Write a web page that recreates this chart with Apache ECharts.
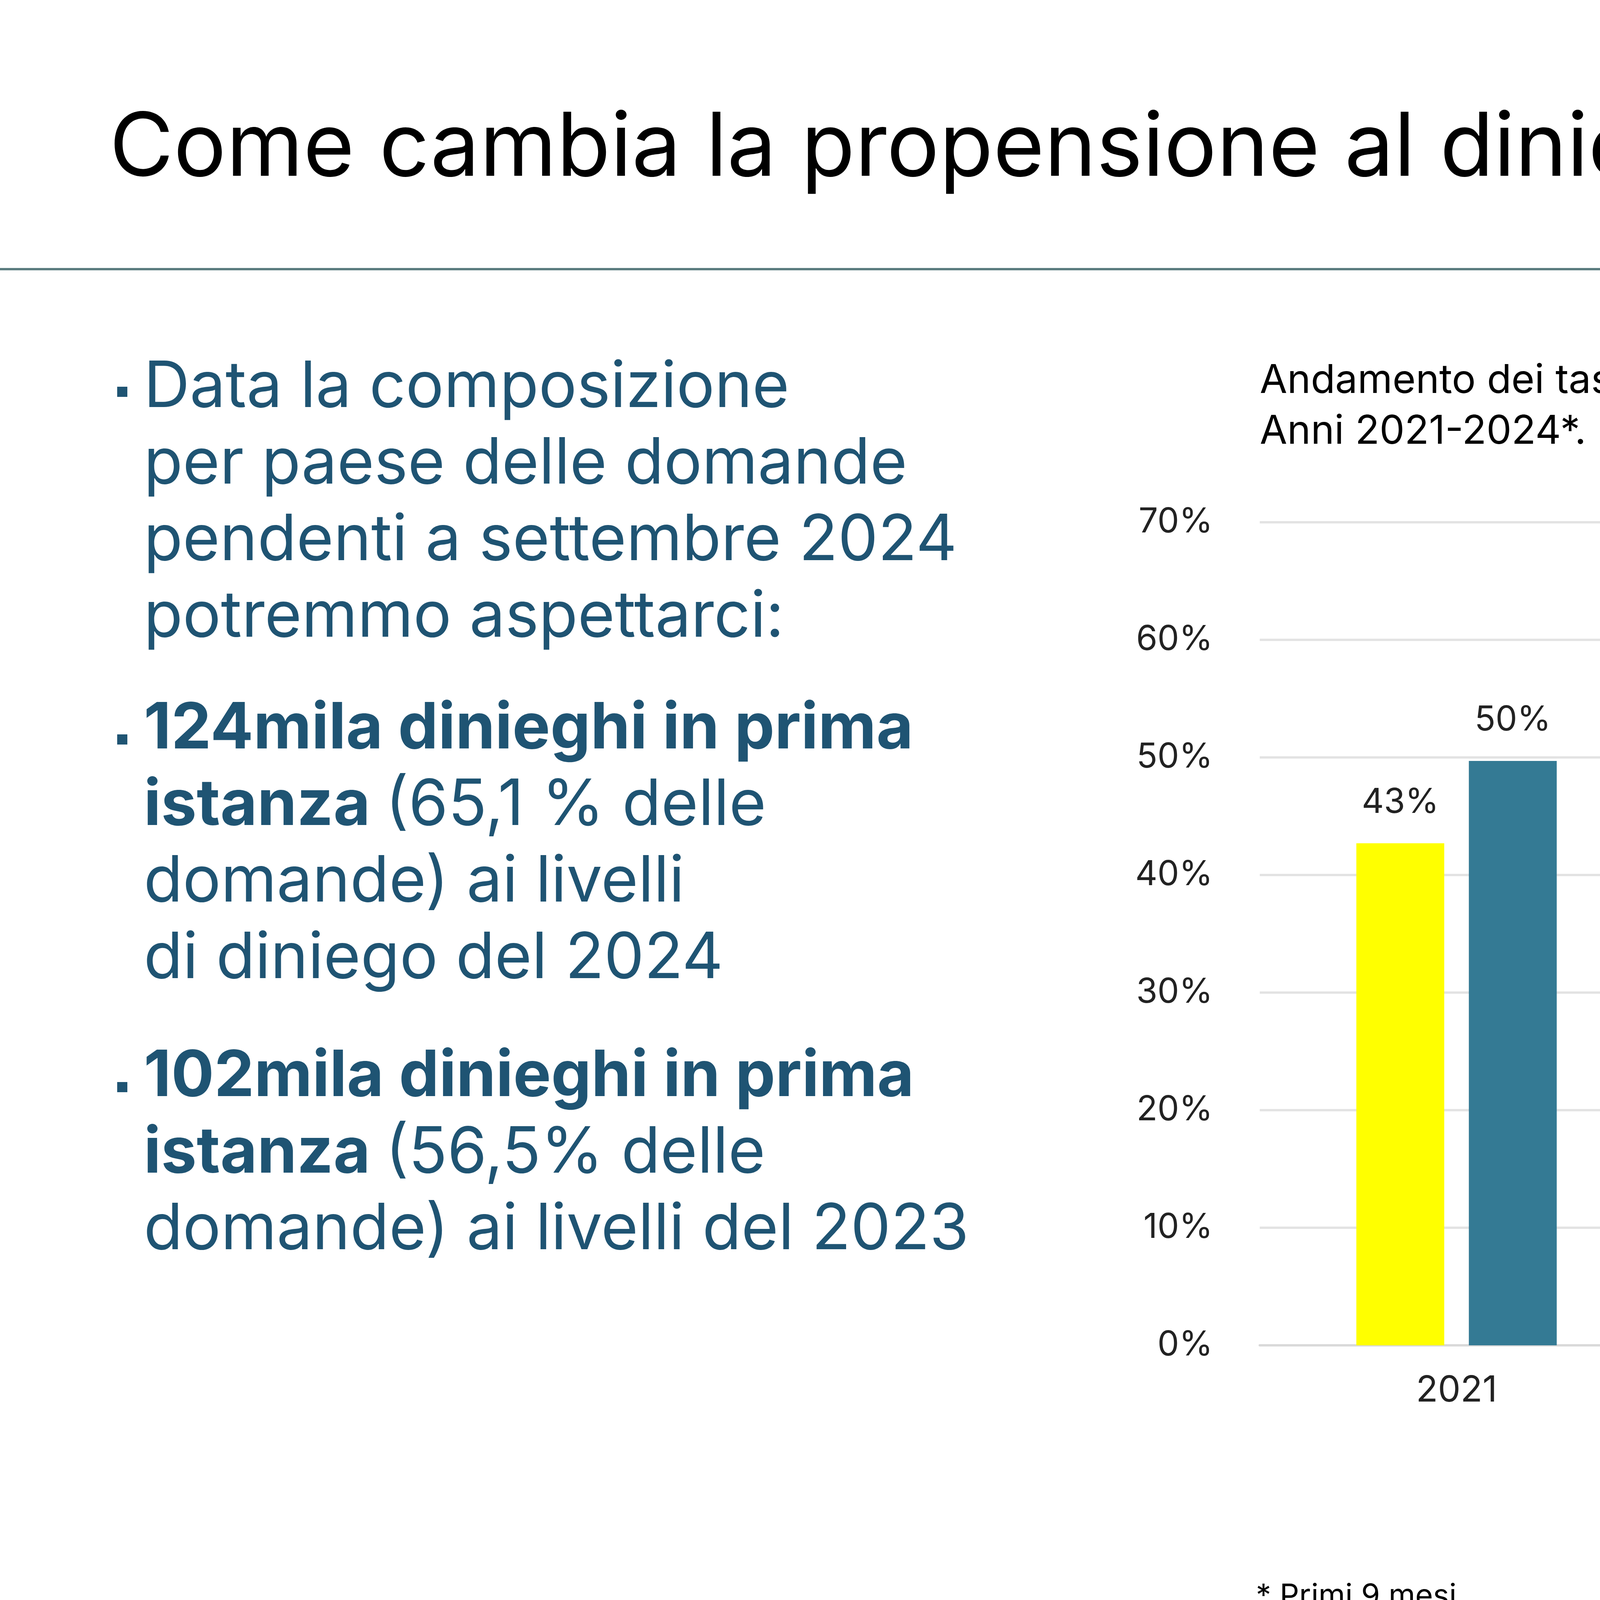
<!DOCTYPE html>
<html>
<head>
<meta charset="utf-8">
<style>
html, body { margin: 0; padding: 0; background: #fff; }
#chart { width: 8000px; height: 4500px; }
</style>
<script src="https://cdn.jsdelivr.net/npm/echarts@6/dist/echarts.min.js"></script>
</head>
<body>
<div id="chart"></div>
<script>
var years = ['2021', '2022', '2023', '2024*'];
var standardizzati = [42.7, 40.2, 42.4, 52.9];
var osservati = [49.7, 51.5, 52.2, 63.2];
var yTicks = [0, 10, 20, 30, 40, 50, 60, 70];

var font = 'Inter';
var teal = '#1f5473';

function pct(p) {
    return Math.round(p.value) + '%';
}

var chart = echarts.init(document.getElementById('chart'));

var option = {
    backgroundColor: '#fff',
    textStyle: { fontFamily: font },
    grid: { left: 3225, right: 745, top: 1337, bottom: 1056 },
    legend: {
        bottom: 560,
        left: 4300,
        itemWidth: 60,
        itemHeight: 60,
        itemGap: 170,
        icon: 'rect',
        textStyle: { fontSize: 97, color: '#222', fontFamily: font, padding: [0, 0, 0, 40] },
        data: ['Tassi standardizzati', 'Osservati']
    },
    xAxis: {
        type: 'category',
        data: years,
        axisLine: { lineStyle: { color: '#d9d9d9', width: 6 } },
        axisTick: { show: false },
        axisLabel: { fontSize: 92, color: '#222', margin: 70 }
    },
    yAxis: {
        type: 'value',
        min: 0,
        max: 70,
        interval: 10,
        axisLine: { show: false },
        axisTick: { show: false },
        splitLine: { lineStyle: { color: '#e3e3e3', width: 6 } },
        axisLabel: {
            fontSize: 88, color: '#222', margin: 120,
            formatter: function (v) { return yTicks.indexOf(v) >= 0 ? v + '%' : ''; }
        }
    },
    series: [{
        name: 'Tassi standardizzati',
        type: 'bar',
        data: standardizzati,
        barWidth: 225,
        barGap: '28%',
        itemStyle: { color: '#ffff00' },
        label: { show: true, position: 'top', distance: 60, fontSize: 88, color: '#222', formatter: pct }
    }, {
        name: 'Osservati',
        type: 'bar',
        data: osservati,
        barWidth: 225,
        itemStyle: { color: '#347a94' },
        label: { show: true, position: 'top', distance: 60, fontSize: 88, color: '#222', formatter: pct }
    }],
    graphic: [
        { type: 'text', left: 280, top: 270, style: { text: 'Come cambia la propensione al diniego', font: '225px Inter', fill: '#000' } },
        { type: 'text', left: 7600, top: 380, style: { text: '13', font: '100px Inter', fill: teal } },
        { type: 'rect', shape: { x: 0, y: 686, width: 8000, height: 6 }, style: { fill: '#5b7d80' } },
        { type: 'rect', shape: { x: 300, y: 990, width: 26, height: 26 }, style: { fill: teal } },
        { type: 'text', left: 368, top: 895, style: {
            text: 'Data la composizione\nper paese delle domande\npendenti a settembre 2024\npotremmo aspettarci:',
            font: '163px Inter', fill: teal, lineHeight: 196 } },
        { type: 'rect', shape: { x: 300, y: 1880, width: 26, height: 26 }, style: { fill: teal } },
        { type: 'text', left: 368, top: 1785, style: {
            rich: { b: { font: 'bold 163px Inter', fill: teal, lineHeight: 196 }, n: { font: '163px Inter', fill: teal, lineHeight: 196 } },
            text: '{b|124mila dinieghi in prima}\n{b|istanza }{n|(65,1 % delle}\n{n|domande) ai livelli}\n{n|di diniego del 2024}' } },
        { type: 'rect', shape: { x: 300, y: 2770, width: 26, height: 26 }, style: { fill: teal } },
        { type: 'text', left: 368, top: 2675, style: {
            rich: { b: { font: 'bold 163px Inter', fill: teal, lineHeight: 196 }, n: { font: '163px Inter', fill: teal, lineHeight: 196 } },
            text: '{b|102mila dinieghi in prima}\n{b|istanza }{n|(56,5% delle}\n{n|domande) ai livelli del 2023}' } },
        { type: 'text', left: 3225, top: 910, style: {
            text: 'Andamento dei tassi di diniego totali e standardizzati.\nAnni 2021-2024*. %',
            font: '102px Inter', fill: '#000', lineHeight: 130 } },
        { type: 'text', left: 3215, top: 4040, style: {
            text: '* Primi 9 mesi\nFonte: elaborazioni ISMU ETS su dati Eurostat (2024)',
            font: '78px Inter', fill: '#000', lineHeight: 95 } }
    ]
};

chart.setOption(option);
</script>
</body>
</html>
